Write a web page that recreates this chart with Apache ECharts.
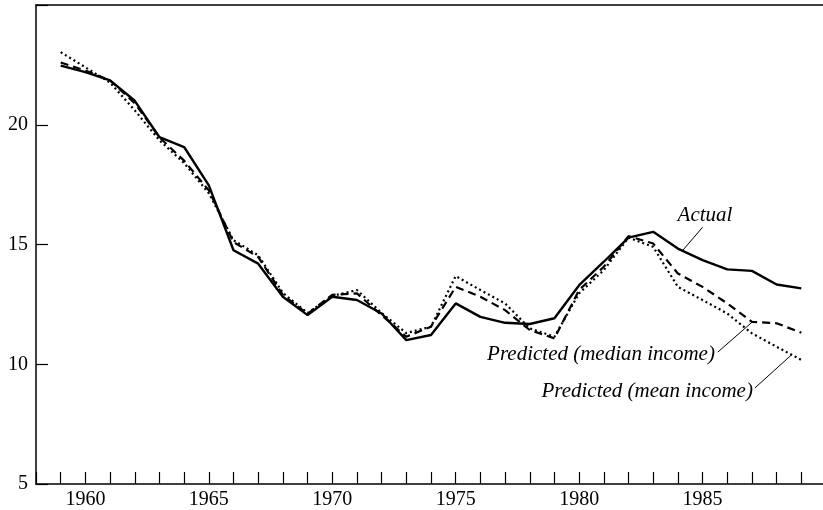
<!DOCTYPE html>
<html>
<head>
<meta charset="utf-8">
<script src="https://cdn.jsdelivr.net/npm/echarts@6/dist/echarts.min.js"></script>
<style>
    html, body { margin: 0; padding: 0; background: #fff; }
    #chart { width: 823px; height: 510px; }
</style>
</head>
<body>
<div id="chart"></div>
<script>
// years on the x axis
const years = [1959, 1960, 1961, 1962, 1963, 1964, 1965, 1966, 1967, 1968, 1969,
    1970, 1971, 1972, 1973, 1974, 1975, 1976, 1977, 1978, 1979,
    1980, 1981, 1982, 1983, 1984, 1985, 1986, 1987, 1988, 1989];

const actual = [22.47, 22.2, 21.85, 21.0, 19.48, 19.07, 17.47, 14.76, 14.2, 12.82, 12.05,
    12.82, 12.68, 12.12, 11.01, 11.22, 12.54, 11.98, 11.73, 11.68, 11.92,
    13.3, 14.28, 15.29, 15.53, 14.83, 14.35, 13.96, 13.9, 13.33, 13.17];
const predMedian = [22.6, 22.26, 21.85, 20.9, 19.47, 18.5, 17.26, 15.1, 14.48, 12.9, 12.1,
    12.9, 12.96, 12.05, 11.15, 11.57, 13.23, 12.82, 12.26, 11.43, 11.08,
    13.1, 14.07, 15.35, 15.04, 13.79, 13.23, 12.54, 11.77, 11.71, 11.32];
const predMean = [23.03, 22.4, 21.76, 20.6, 19.35, 18.4, 17.14, 15.18, 14.55, 12.98, 12.14,
    12.85, 13.1, 12.14, 11.3, 11.57, 13.68, 13.1, 12.54, 11.5, 11.15,
    12.96, 13.93, 15.29, 14.9, 13.23, 12.68, 12.12, 11.29, 10.73, 10.18];

const yTicks = [5, 10, 15, 20];
const xLabelYears = [1960, 1965, 1970, 1975, 1980, 1985];

// annotations: text, anchor [year, value], align, leader line [from, to]
const notes = [
    { text: "Actual", at: [1985.1, 16.2], align: "center", line: [[1985.0, 15.72], [1984.2, 14.76]] },
    { text: "Predicted (median income)", at: [1985.5, 10.39], align: "right", line: [[1985.62, 10.51], [1987.03, 11.78]] },
    { text: "Predicted (mean income)", at: [1987.04, 8.85], align: "right", line: [[1987.12, 9.01], [1988.6, 10.39]] },
];

const serif = "'Liberation Serif', 'DejaVu Serif', serif";

function pairs(vals) {
    return years.map((y, i) => [y, vals[i]]);
}

let chart = echarts.init(document.getElementById("chart"));

let option = {
    animation: false,
    backgroundColor: "#fff",
    grid: { left: 36, right: -3, top: 5, bottom: 26, containLabel: false, outerBoundsMode: "none" },
    xAxis: [
        {
            type: "value",
            min: 1958,
            max: 1990,
            interval: 1,
            axisLine: { lineStyle: { color: "#000", width: 1.5 } },
            axisTick: { inside: true, length: 12, lineStyle: { color: "#000", width: 1.2 } },
            axisLabel: {
                color: "#000",
                fontFamily: serif,
                fontSize: 20,
                margin: 6,
                formatter: (v) => (xLabelYears.includes(v) ? String(v) : ""),
            },
            splitLine: { show: false },
        },
        {
            // top border
            type: "value",
            position: "top",
            min: 1958,
            max: 1990,
            axisLine: { show: true, lineStyle: { color: "#000", width: 1.5 } },
            axisTick: { show: false },
            axisLabel: { show: false },
            splitLine: { show: false },
        },
    ],
    yAxis: {
        type: "value",
        min: 5,
        max: 25,
        interval: 5,
        axisLine: { show: true, lineStyle: { color: "#000", width: 1.5 } },
        axisTick: { inside: true, length: 12, lineStyle: { color: "#000", width: 1.2 } },
        axisLabel: {
            color: "#000",
            fontFamily: serif,
            fontSize: 20,
            margin: 8,
            formatter: (v) => (yTicks.includes(v) ? String(v) : ""),
        },
        splitLine: { show: false },
    },
    series: [
        {
            name: "Predicted (mean income)",
            type: "line",
            data: pairs(predMean),
            symbol: "none",
            lineStyle: { color: "#000", width: 2.2, type: [2, 3] },
        },
        {
            name: "Predicted (median income)",
            type: "line",
            data: pairs(predMedian),
            symbol: "none",
            lineStyle: { color: "#000", width: 2.2, type: [8, 5] },
        },
        {
            name: "Actual",
            type: "line",
            data: pairs(actual),
            symbol: "none",
            lineStyle: { color: "#000", width: 2.4 },
            markLine: {
                silent: true,
                symbol: "none",
                label: { show: false },
                lineStyle: { color: "#000", width: 1, type: "solid" },
                data: notes.map((n) => [{ coord: n.line[0] }, { coord: n.line[1] }]),
            },
        },
    ],
};

chart.setOption(option);

// annotation texts placed at data positions
chart.setOption({
    graphic: notes.map((n) => {
        let p = chart.convertToPixel({ gridIndex: 0 }, n.at);
        return {
            type: "text",
            x: p[0],
            y: p[1],
            style: {
                text: n.text,
                font: "italic 21px " + serif,
                fill: "#000",
                align: n.align,
                verticalAlign: "middle",
            },
        };
    }),
});
</script>
</body>
</html>
